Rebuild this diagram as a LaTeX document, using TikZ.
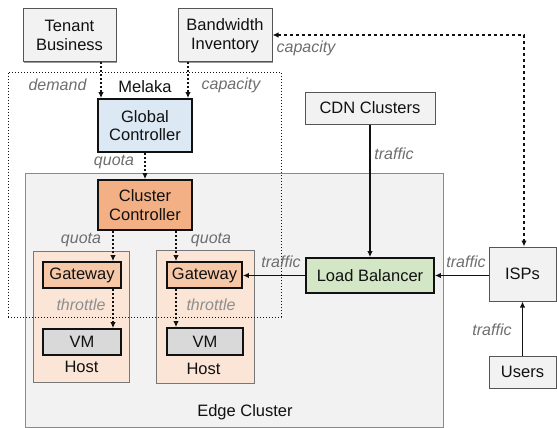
\documentclass[tikz,border=0pt]{standalone}
\usepackage{fontspec}
\setmainfont{Liberation Sans}
\usetikzlibrary{arrows.meta,shadows}

\definecolor{boxgray}{HTML}{F2F2F2}
\definecolor{boxline}{HTML}{555555}
\definecolor{edgeline}{HTML}{8A8A8A}
\definecolor{globalfill}{HTML}{DCE9F5}
\definecolor{clusterfill}{HTML}{F2B084}
\definecolor{gatewayfill}{HTML}{F7C8A8}
\definecolor{hostfill}{HTML}{FBE5D6}
\definecolor{hostline}{HTML}{777777}
\definecolor{vmfill}{HTML}{D9D9D9}
\definecolor{lbfill}{HTML}{D3E6C5}
\definecolor{labelgray}{HTML}{6E6E6E}
\definecolor{lightlabel}{HTML}{8E8E8E}
\definecolor{ink}{HTML}{111111}

\tikzset{
  tip/.tip={Latex[length=6pt,width=5.5pt]},
  plainbox/.style={draw=boxline, fill=boxgray, line width=1pt, inner sep=0pt,
    align=center, text=ink,
    drop shadow={shadow xshift=1.3pt, shadow yshift=-1.3pt, fill=black!40, opacity=1}},
  keybox/.style={draw=ink, line width=1.8pt, inner sep=0pt, align=center, text=ink},
  hostbox/.style={draw=hostline, fill=hostfill, line width=1pt, inner sep=0pt},
  region/.style={inner sep=0pt},
  lbl/.style={font=\fontsize{16}{18}\selectfont\itshape, text=labelgray, inner sep=0pt},
  lightlbl/.style={lbl, text=lightlabel},
  plain/.style={text=ink, inner sep=0pt},
  flow/.style={draw=ink, line width=1.8pt, -tip},
  ctrl/.style={flow, dash pattern=on 2pt off 2pt},
  capflow/.style={draw=ink, line width=1.6pt, tip-tip, dash pattern=on 3.5pt off 2.5pt},
  zone/.style={draw=ink, line width=0.9pt, dash pattern=on 1.4pt off 1.6pt},
}

\begin{document}
\begin{tikzpicture}[x=1pt, y=-1pt, font=\fontsize{16.5}{18.7}\selectfont]
\useasboundingbox (0,0) rectangle (557,428);

% Edge cluster area
\node[region, draw=edgeline, fill=boxgray, line width=1pt,
      minimum width=418pt, minimum height=254pt] (edge) at (234,300) {};
\node[plain] (edgelabel) at (245,412) {Edge Cluster};

% Hosts with their gateways and VMs
\node[hostbox, minimum width=96pt, minimum height=131pt] (hostL) at (81,316.5) {};
\node[hostbox, minimum width=98pt, minimum height=133pt] (hostR) at (205,316.5) {};
\node[keybox, fill=gatewayfill, minimum width=78pt, minimum height=26pt] (gwL) at (82,275) {Gateway};
\node[keybox, fill=gatewayfill, minimum width=75pt, minimum height=26pt] (gwR) at (204.5,275) {Gateway};
\node[keybox, fill=vmfill, minimum width=78pt, minimum height=26pt] (vmL) at (82,342) {VM};
\node[keybox, fill=vmfill, minimum width=76pt, minimum height=27pt] (vmR) at (205,341.5) {VM};
\node[plain] (hostLlabel) at (81.5,367) {Host};
\node[plain] (hostRlabel) at (203.5,369) {Host};

% Controllers
\node[keybox, fill=globalfill, minimum width=94pt, minimum height=53pt] (global) at (145,125.5) {Global\\Controller};
\node[keybox, fill=clusterfill, minimum width=94pt, minimum height=50pt] (cluster) at (145,205) {Cluster\\Controller};

% Outside sources
\node[plainbox, minimum width=93pt, minimum height=53pt] (tenant) at (69.5,35.5) {Tenant\\Business};
\node[plainbox, minimum width=94pt, minimum height=53pt] (bw) at (225,35.5) {Bandwidth\\Inventory};
\node[plainbox, minimum width=130pt, minimum height=32pt] (cdn) at (370,108) {CDN Clusters};
\node[plainbox, minimum width=67pt, minimum height=54pt] (isps) at (522.5,274) {ISPs};
\node[plainbox, minimum width=67pt, minimum height=32pt] (users) at (522.5,372) {Users};
\node[keybox, fill=lbfill, minimum width=128pt, minimum height=35pt] (lb) at (370,275.5) {Load Balancer};

% Melaka boundary
\node[region, zone, minimum width=273pt, minimum height=245pt] (melaka) at (144.5,194.5) {};
\node[plain] (melakalabel) at (145,87) {Melaka};

% Columns used by the control arrows
\coordinate (demandx) at (101,0);
\coordinate (capx) at (188,0);
\coordinate (leftq) at (113,0);
\coordinate (rightq) at (176,0);
\coordinate (corner) at (524,35);

% Control flow
\draw[ctrl] (tenant.south -| demandx) -- (global.north -| demandx);
\draw[ctrl] (bw.south -| capx) -- (global.north -| capx);
\draw[ctrl] (global.south) -- (cluster.north);
\draw[ctrl] (cluster.south -| leftq) -- (gwL.north -| leftq);
\draw[ctrl] (cluster.south -| rightq) -- (gwR.north -| rightq);
\draw[ctrl] (gwL.south -| leftq) -- (vmL.north -| leftq);
\draw[ctrl] (gwR.south -| rightq) -- (vmR.north -| rightq);
\draw[capflow] (bw.east |- corner) -- (corner) -- (isps.north -| corner);

% Traffic flow
\draw[flow] (cdn.south) -- (lb.north);
\draw[flow] (isps.west |- lb.east) -- (lb.east);
\draw[flow] (lb.west) -- (gwR.east |- lb.west);
\draw[flow] (users.north) -- (isps.south);

% Edge labels
\node[lbl] (demandlbl) at (57.5,85) {demand};
\node[lbl] (caplbl) at (231,85) {capacity};
\node[lbl] (bwcaplbl) at (306,48) {capacity};
\node[lbl] (quotag) at (114,162) {quota};
\node[lbl] (quotaL) at (81,240) {quota};
\node[lbl] (quotaR) at (211,240) {quota};
\node[lightlbl] (throttleL) at (81,305) {throttle};
\node[lightlbl] (throttleR) at (211,305) {throttle};
\node[lbl] (cdntraffic) at (394,154) {traffic};
\node[lbl] (isptraffic) at (466,262) {traffic};
\node[lbl] (gwtraffic) at (281,262) {traffic};
\node[lbl] (usertraffic) at (492,330) {traffic};
\end{tikzpicture}
\end{document}
